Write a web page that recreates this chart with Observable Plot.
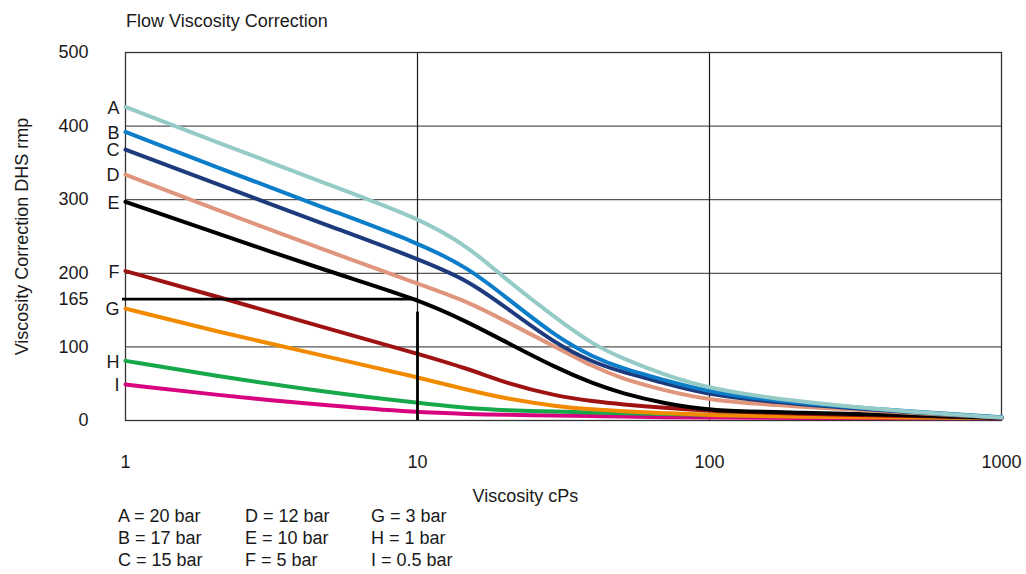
<!DOCTYPE html>
<html><head><meta charset="utf-8">
<script src="https://cdn.jsdelivr.net/npm/d3@7"></script>
<script src="https://cdn.jsdelivr.net/npm/@observablehq/plot@0.6"></script>
<style>
body{margin:0;background:#fff;font-family:"Liberation Sans",Arial,sans-serif;color:#1a1a1a;}
#wrap{position:relative;width:1026px;height:574px;overflow:hidden;background:#fff;}
#title{position:absolute;left:126px;top:10.6px;font-size:18px;line-height:21.8px;white-space:nowrap;}
#chart{position:absolute;left:0;top:40px;}
#legend{position:absolute;top:506px;left:0;font-size:18px;line-height:21.8px;}
.col{position:absolute;top:0;white-space:nowrap;}
</style></head>
<body>
<div id="wrap">
  <div id="title">Flow Viscosity Correction</div>
  <div id="chart"></div>
  <div id="legend"></div>
</div>
<script>
// Viscosity (cPs) sample points
const viscosity = [1, 2, 5, 10, 15, 20, 30, 40, 50, 70, 100, 200, 500, 1000];
// Viscosity correction values per curve
const curveA = [426, 380, 320, 276, 236, 192, 138, 103, 85, 62, 43, 25, 11, 4];
const curveB = [392, 346, 286, 242, 207, 168, 113, 86, 71, 55, 38, 23, 12, 4.5];
const curveC = [368, 323, 264, 220, 190, 154, 103, 79, 66, 51, 34, 22, 11, 4];
const curveD = [334, 288, 229, 186, 161, 135, 99, 73, 57, 41, 27, 19, 10, 4];
const curveE = [297, 256, 202, 165, 133, 107, 71, 50, 37, 23, 13, 11, 7, 3.5];
const curveF = [203, 170, 124, 91, 70, 51, 33, 26, 22, 17, 13, 9, 6, 3.5];
const curveG = [152, 122, 86, 59, 41, 30, 19, 15, 12.5, 10, 7, 5, 4, 3.5];
const curveH = [81, 61, 38, 24, 16.5, 14, 12, 11, 10, 8.6, 7.7, 6, 4.5, 3.5];
const curveI = [49, 35, 20, 11, 8.8, 7.7, 6.8, 5.9, 5.4, 4.5, 4, 3.5, 3, 3];

const curveNames = ["A", "B", "C", "D", "E", "F", "G", "H", "I"];
const curveValues = [curveA, curveB, curveC, curveD, curveE, curveF, curveG, curveH, curveI];
const curveColors = ["#95cbc6", "#0c7dc8", "#1c3a7c", "#e0967c", "#000000", "#9e1212", "#f28a00", "#17a84a", "#d8047f"];
const legendLabels = ["A = 20 bar", "B = 17 bar", "C = 15 bar", "D = 12 bar", "E = 10 bar", "F = 5 bar", "G = 3 bar", "H = 1 bar", "I = 0.5 bar"];

const yTicks = [0, 100, 165, 200, 300, 400, 500];
const xTicks = [1, 10, 100, 1000];
const yGrid = [100, 200, 300, 400];
const xGrid = [10, 100];
const refViscosity = 10;
const refCorrection = 165;

// long table
const rows = [];
curveNames.forEach((name, k) => {
  viscosity.forEach((v, i) => rows.push({curve: name, x: v, y: curveValues[k][i]}));
});
const starts = curveNames.map((name, k) => ({curve: name, x: viscosity[0], y: curveValues[k][0]}));

const font = "Liberation Sans, Arial, sans-serif";
const drawOrder = curveNames.slice().reverse();

const chart = Plot.plot({
  width: 1026,
  height: 466,
  marginTop: 12,
  marginBottom: 86,
  marginLeft: 125,
  marginRight: 25,
  style: {fontFamily: font, fontSize: "18px", color: "#1a1a1a", background: "#fff"},
  x: {type: "log", domain: [1, 1000]},
  y: {domain: [0, 500]},
  color: {domain: curveNames, range: curveColors},
  marks: [
    Plot.ruleY(yGrid, {stroke: "#555", strokeWidth: 1.3}),
    Plot.ruleX(xGrid, {stroke: "#1a1a1a", strokeWidth: 1.2}),
    Plot.frame({stroke: "#333", strokeWidth: 1.3}),
    ...drawOrder.map(name => Plot.line(rows.filter(r => r.curve === name), {
      x: "x", y: "y", stroke: d => d.curve, strokeWidth: 4, curve: "basis"
    })),
    Plot.text(starts, {x: "x", y: "y", text: "curve", textAnchor: "end", dx: -6, dy: 1, fill: "#1a1a1a", fontSize: 18}),
    Plot.ruleY([refCorrection], {x1: 1, x2: refViscosity, insetLeft: -3, stroke: "#000", strokeWidth: 2.8}),
    Plot.ruleX([refViscosity], {y1: 0, y2: refCorrection, insetBottom: -13, stroke: "#000", strokeWidth: 2.8}),
    Plot.axisY({ticks: yTicks, tickSize: 0, tickPadding: 37, label: null, fontSize: 18, fill: "#1a1a1a"}),
    Plot.axisX({ticks: xTicks, tickFormat: d => String(d), tickSize: 0, tickPadding: 35, label: null, fontSize: 18, fill: "#1a1a1a"}),
    Plot.text(["Viscosity Correction DHS rmp"], {text: d => d, frameAnchor: "left", rotate: -90, textAnchor: "middle", lineAnchor: "bottom", dx: -98, fontSize: 18, fill: "#1a1a1a"}),
    Plot.text(["Viscosity cPs"], {text: d => d, frameAnchor: "bottom-left", textAnchor: "start", lineAnchor: "bottom", dx: 347, dy: 81, fontSize: 18, fill: "#1a1a1a"})
  ]
});
document.getElementById("chart").appendChild(chart);

// legend columns
const legend = document.getElementById("legend");
const colLefts = [118, 245, 371];
for (let c = 0; c < 3; c++) {
  const col = document.createElement("div");
  col.className = "col";
  col.style.left = colLefts[c] + "px";
  col.innerHTML = legendLabels.slice(c * 3, c * 3 + 3).map(t => `<div>${t}</div>`).join("");
  legend.appendChild(col);
}
</script>
</body></html>
